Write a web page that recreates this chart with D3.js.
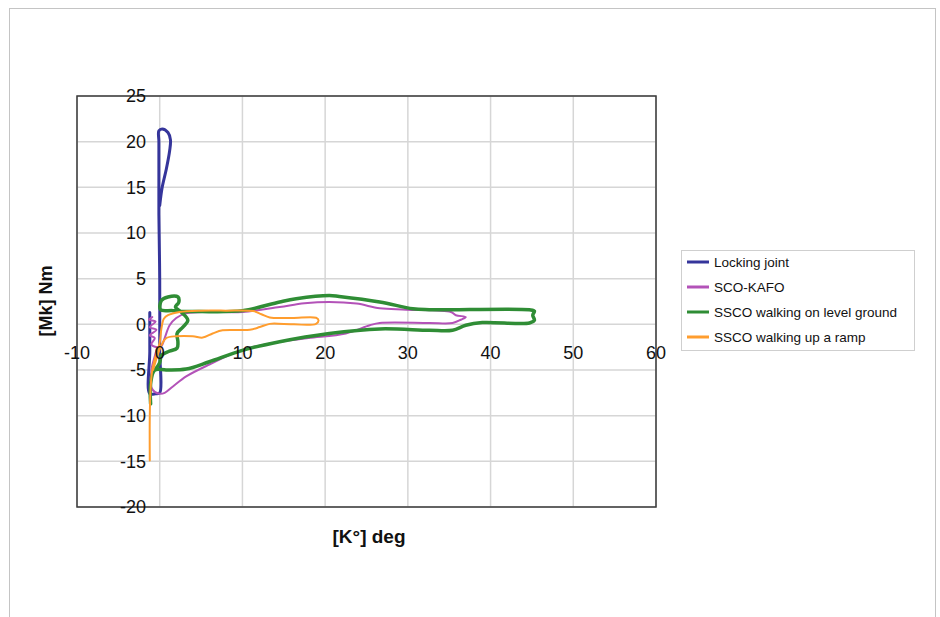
<!DOCTYPE html>
<html>
<head>
<meta charset="utf-8">
<script src="https://cdn.jsdelivr.net/npm/d3@7"></script>
<style>
  html, body { margin: 0; padding: 0; background: #fff; }
  svg text { font-family: "Liberation Sans", Arial, Helvetica, sans-serif; }
</style>
</head>
<body>
<div id="chart-area"></div>
<script>
// knee angle [deg] vs knee moment [Nm]
const xTicks = [-10, 0, 10, 20, 30, 40, 50, 60];
const yTicks = [-20, -15, -10, -5, 0, 5, 10, 15, 20, 25];

const seriesNames = ["Locking joint", "SCO-KAFO", "SSCO walking on level ground", "SSCO walking up a ramp"];
const seriesColors = ["#35359b", "#b352b8", "#2f8d35", "#ff9d2e"];
const seriesWidths = [3, 2, 3.5, 2];

const lockingJoint = [
    [-1.2, 1.3], [-1.2, -3], [-1.2, -7.6], [-0.5, -7.6], [0, -7.5], [0, -3], [0, 5],
    [-0.1, 12], [-0.1, 16], [-0.1, 20], [-0.1, 21.2], [0.3, 21.4], [1.0, 21.0],
    [1.3, 20.2], [1.2, 19], [0.8, 17], [0.3, 15], [0, 13]
];

const scoKafo = [
    [-0.9, 0.8], [-1.3, 0.5], [-0.5, 0.3], [-1.2, -0.3], [-0.4, -0.6], [-1.2, -1.2],
    [-0.6, -1.5], [-1.0, -2.2], [-0.3, -2.5], [0.2, -2.4], [0.6, -1.5], [1.2, -0.1],
    [2.0, 0.7], [3.2, 1.2], [6, 1.35], [10, 1.35], [14.5, 1.9], [17.5, 2.3], [20.5, 2.45],
    [23.8, 2.27], [26.6, 1.75], [29.8, 1.6], [35.2, 1.35], [35.8, 1.0], [37.0, 0.8],
    [36.4, 0.5], [35.4, 0.15], [32.6, 0.15], [26.6, 0.15], [25.4, -0.1], [22.5, -1.0],
    [18, -1.5], [14.5, -1.9], [10, -2.8], [6, -4.4], [3.2, -5.7], [1.6, -6.8], [0.6, -7.5],
    [0, -7.6], [-0.6, -7.4], [-1.0, -6.9], [-1.0, -5], [-0.6, -3.5], [-0.3, -2.5]
];

const ssocLevel = [
    [-1.1, -8.7], [-1.1, -6.5], [-0.6, -5.0], [0.8, -5.0], [3.2, -4.9], [6, -4.1],
    [10, -2.85], [14.5, -1.9], [20.5, -1.0], [26.6, -0.5], [32.6, -0.65], [35.4, -0.65],
    [37.0, -0.1], [39.0, 0.2], [44.7, 0.15], [45.3, 0.45], [45.1, 1.0], [45.3, 1.45],
    [44.7, 1.6], [32.6, 1.6], [30.6, 1.7], [26.6, 2.45], [21.7, 3.05], [20.5, 3.15],
    [16.5, 2.8], [14.5, 2.45], [10, 1.5], [5, 1.4], [1.6, 1.5], [0.1, 1.6], [0.2, 2.6],
    [1.0, 3.0], [2.2, 3.0], [2.3, 2.4], [1.9, 1.9], [2.6, 1.35], [3.4, 0.45], [2.8, -0.3],
    [2.1, -1.0], [2.2, -1.9], [2.1, -2.6], [1.0, -3.0], [0.2, -3.4], [0, -4.2], [-0.6, -5.0]
];

const ssocRamp = [
    [-1.2, -14.9], [-1.2, -10], [-1.1, -7], [-0.9, -5], [-0.5, -3.5], [0, -2], [0.2, -0.5],
    [0.5, 0.6], [1.0, 1.0], [2.4, 1.35], [5, 1.5], [8, 1.5], [11.3, 1.45], [12.3, 1.1],
    [13.3, 0.75], [16, 0.7], [18.9, 0.72], [19.2, 0.45], [18.9, 0.05], [15, 0.05],
    [13.3, 0.05], [12.1, -0.3], [10.9, -0.6], [7.6, -0.65], [6.4, -1.0], [5.2, -1.45],
    [4, -1.3], [2, -1.3], [0.8, -1.5], [0.2, -2.3], [-0.4, -3.8], [-0.8, -5]
];

const allSeries = [lockingJoint, scoKafo, ssocLevel, ssocRamp];

const width = 940;
const height = 617;

const svg = d3.select("#chart-area")
    .append("svg")
    .attr("width", width)
    .attr("height", height);

// outer frame
svg.append("rect")
    .attr("x", 9.5).attr("y", 8.5)
    .attr("width", 926).attr("height", 620)
    .attr("fill", "none")
    .attr("stroke", "#c4c4c4")
    .attr("stroke-width", 1);

const x = d3.scaleLinear().domain([-10, 60]).range([77, 656]);
const y = d3.scaleLinear().domain([-20, 25]).range([507, 96]);

// grid
svg.append("g")
    .selectAll("line")
    .data(xTicks)
    .join("line")
    .attr("x1", d => x(d)).attr("x2", d => x(d))
    .attr("y1", y(25)).attr("y2", y(-20))
    .attr("stroke", "#d6d6d6")
    .attr("stroke-width", 1.5);

svg.append("g")
    .selectAll("line")
    .data(yTicks)
    .join("line")
    .attr("x1", x(-10)).attr("x2", x(60))
    .attr("y1", d => y(d)).attr("y2", d => y(d))
    .attr("stroke", "#d6d6d6")
    .attr("stroke-width", 1.5);

// plot frame
svg.append("rect")
    .attr("x", x(-10)).attr("y", y(25))
    .attr("width", x(60) - x(-10)).attr("height", y(-20) - y(25))
    .attr("fill", "none")
    .attr("stroke", "#3a3a3a")
    .attr("stroke-width", 1.5);

// curves
const line = d3.line()
    .x(d => x(d[0]))
    .y(d => y(d[1]))
    .curve(d3.curveCatmullRom.alpha(0.5));

svg.append("g")
    .selectAll("path")
    .data(allSeries)
    .join("path")
    .attr("d", line)
    .attr("fill", "none")
    .attr("stroke", (d, i) => seriesColors[i])
    .attr("stroke-width", (d, i) => seriesWidths[i])
    .attr("stroke-linejoin", "round")
    .attr("stroke-linecap", "round");

// tick labels sit next to the zero lines
svg.append("g")
    .selectAll("text")
    .data(yTicks)
    .join("text")
    .attr("x", 146)
    .attr("y", d => y(d))
    .attr("dy", "0.35em")
    .attr("text-anchor", "end")
    .attr("font-size", 18)
    .attr("fill", "#111")
    .text(d => d);

svg.append("g")
    .selectAll("text")
    .data(xTicks)
    .join("text")
    .attr("x", d => x(d))
    .attr("y", y(0) + 28)
    .attr("dy", "0.35em")
    .attr("text-anchor", "middle")
    .attr("font-size", 18)
    .attr("fill", "#111")
    .text(d => d);

// axis titles
svg.append("text")
    .attr("transform", "translate(52,301) rotate(-90)")
    .attr("text-anchor", "middle")
    .attr("font-size", 18)
    .attr("font-weight", "bold")
    .attr("fill", "#111")
    .text("[Mk] Nm");

svg.append("text")
    .attr("x", 369)
    .attr("y", 543)
    .attr("text-anchor", "middle")
    .attr("font-size", 19)
    .attr("font-weight", "bold")
    .attr("fill", "#111")
    .text("[K°] deg");

// legend
const legend = svg.append("g").attr("transform", "translate(681,250)");

legend.append("rect")
    .attr("x", 0.5).attr("y", 0.5)
    .attr("width", 233).attr("height", 100)
    .attr("fill", "#fff")
    .attr("stroke", "#cfcfcf");

const item = legend.selectAll("g.item")
    .data(seriesNames)
    .join("g")
    .attr("class", "item")
    .attr("transform", (d, i) => "translate(0," + (12 + i * 25) + ")");

item.append("line")
    .attr("x1", 6).attr("x2", 28)
    .attr("y1", 0).attr("y2", 0)
    .attr("stroke", (d, i) => seriesColors[i])
    .attr("stroke-width", 3);

item.append("text")
    .attr("x", 33)
    .attr("y", 0)
    .attr("dy", "0.35em")
    .attr("font-size", 13.5)
    .attr("fill", "#111")
    .text(d => d);
</script>
</body>
</html>
